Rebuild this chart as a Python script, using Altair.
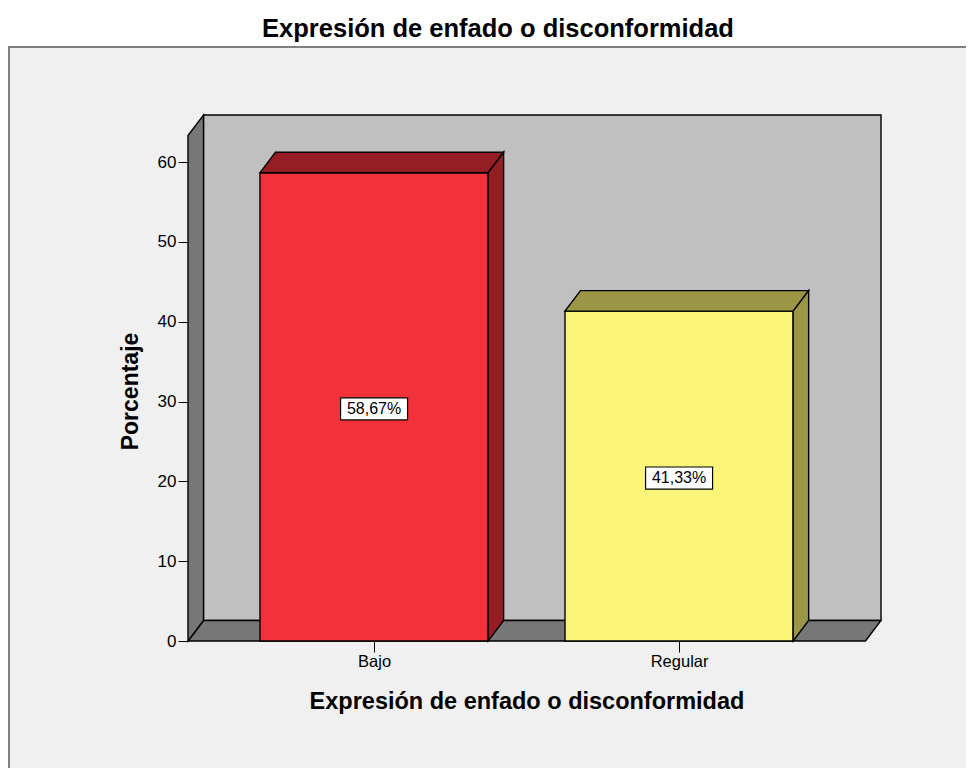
import json
import altair as alt
import pandas as pd

# ---------------- data ----------------
categories = ["Bajo", "Regular"]
percentages = [58.67, 41.33]
value_labels = ["58,67%", "41,33%"]
y_ticks = [0, 10, 20, 30, 40, 50, 60]

front_colors = ["#F1323A", "#FAF578"]
shade_colors = ["#941E23", "#9B9646"]

chart_title = "Expresión de enfado o disconformidad"
x_title = "Expresión de enfado o disconformidad"
y_title = "Porcentaje"

# ---------------- geometry (x in category units, y in percent) ----------------
X_MIN, X_MAX = -0.61, 1.662
Y_MAX = 65.9
HALF_W = 0.374
DX = 0.0508
DY = 2.57
FRONT_TOP = Y_MAX - DY

FONT = "Liberation Sans"
W, H = 693, 526

positions = list(range(len(categories)))

xs = alt.Scale(domain=[X_MIN, X_MAX], nice=False, zero=False)
ys = alt.Scale(domain=[0, Y_MAX], nice=False, zero=False)
color_front = alt.Scale(domain=categories, range=front_colors)
color_shade = alt.Scale(domain=categories, range=shade_colors)

x_axis = alt.Axis(
    values=positions,
    labelExpr=f"{json.dumps(categories)}[round(datum.value)]",
    domain=False, grid=False, tickSize=11, tickColor="black", tickWidth=1,
    labelFont=FONT, labelFontSize=16.5, labelColor="black", labelPadding=1,
    labelFlush=False,
    title=x_title, titleFont=FONT, titleFontSize=23.5, titleFontWeight="bold",
    titleColor="black", titleX=338.5, titleY=67.5, titleBaseline="alphabetic",
    titleAlign="center", zindex=2,
)
y_axis = alt.Axis(
    values=y_ticks, domain=False, grid=False, tickSize=10, tickColor="black",
    tickWidth=1, labelFont=FONT, labelFontSize=17, labelColor="black",
    labelPadding=2,
    title=y_title, titleFont=FONT, titleFontSize=23, titleFontWeight="bold",
    titleColor="black", titleAngle=270, titleX=-51, titleY=276,
    titleBaseline="alphabetic", titleAlign="center", zindex=2,
)


def X(field="x"):
    return alt.X(f"{field}:Q", scale=xs, axis=x_axis)


def Y(field="y"):
    return alt.Y(f"{field}:Q", scale=ys, axis=y_axis)


# ---------------- tables ----------------
one = pd.DataFrame({"k": [0]})

back_df = pd.DataFrame({"x": [X_MIN + DX], "x2": [X_MAX], "y": [DY], "y2": [Y_MAX]})
floor_df = pd.DataFrame({"y": [0, DY], "x": [X_MIN, X_MIN + DX], "x2": [X_MAX - DX, X_MAX]})
wall_df = pd.DataFrame({"x": [X_MIN, X_MIN + DX], "y": [0, DY], "y2": [FRONT_TOP, Y_MAX]})

bars = pd.DataFrame({
    "cat": categories,
    "pos": positions,
    "value": percentages,
    "label": value_labels,
})
bars["x"] = bars["pos"] - HALF_W
bars["x2"] = bars["pos"] + HALF_W
bars["y"] = 0.0
bars["y2"] = bars["value"]

top_rows, side_rows = [], []
for c, p, v in zip(categories, positions, percentages):
    top_rows.append({"cat": c, "y": v, "x": p - HALF_W, "x2": p + HALF_W})
    top_rows.append({"cat": c, "y": v + DY, "x": p - HALF_W + DX, "x2": p + HALF_W + DX})
    side_rows.append({"cat": c, "x": p + HALF_W, "y": 0.0, "y2": v})
    side_rows.append({"cat": c, "x": p + HALF_W + DX, "y": DY, "y2": v + DY})
top_df = pd.DataFrame(top_rows)
side_df = pd.DataFrame(side_rows)

lab_df = pd.DataFrame({"x": positions, "y": [v / 2 for v in percentages], "label": value_labels})

OUT = dict(stroke="black", strokeWidth=1.4)

# ---------------- layers ----------------
frame = alt.Chart(one).mark_rect(
    fill="#F0F0F0", stroke="#808080", strokeWidth=2
).encode(x=alt.value(-179), x2=alt.value(820), y=alt.value(-68), y2=alt.value(720))

title = alt.Chart(one).mark_text(
    text=chart_title, font=FONT, fontSize=25.5, fontWeight="bold", color="black",
    align="center", baseline="alphabetic",
).encode(x=alt.value(310), y=alt.value(-78.5))

back = alt.Chart(back_df).mark_rect(fill="#C0C0C0", **OUT).encode(
    x=X(), x2="x2:Q", y=Y(), y2="y2:Q")

floor = alt.Chart(floor_df).mark_area(orient="horizontal", fill="#777777", **OUT).encode(
    y=Y(), x=X(), x2="x2:Q")

wall = alt.Chart(wall_df).mark_area(orient="vertical", fill="#777777", **OUT).encode(
    x=X(), y=Y(), y2="y2:Q")

fronts = alt.Chart(bars).mark_rect(**OUT).encode(
    x=X(), x2="x2:Q", y=Y(), y2="y2:Q",
    fill=alt.Fill("cat:N", scale=color_front, legend=None))

tops = alt.Chart(top_df).mark_area(orient="horizontal", **OUT).encode(
    y=Y(), x=X(), x2="x2:Q",
    fill=alt.Fill("cat:N", scale=color_shade, legend=None),
    detail="cat:N")

sides = alt.Chart(side_df).mark_area(orient="vertical", **OUT).encode(
    x=X(), y=Y(), y2="y2:Q",
    fill=alt.Fill("cat:N", scale=color_shade, legend=None),
    detail="cat:N")

boxes = alt.Chart(lab_df).mark_point(
    shape="M -1 -0.33 L 1 -0.33 L 1 0.33 L -1 0.33 Z",
    size=67 * 67, filled=True, fill="white", stroke="black", strokeWidth=1.2,
    opacity=1, yOffset=2,
).encode(x=X(), y=Y())

texts = alt.Chart(lab_df).mark_text(
    font=FONT, fontSize=16, color="black", align="center", baseline="middle", dy=2,
).encode(x=X(), y=Y(), text="label:N")

chart = alt.layer(
    frame, title, back, floor, wall, fronts, tops, sides, boxes, texts
).resolve_scale(fill="independent").properties(
    width=W, height=H,
    autosize=alt.AutoSizeParams(type="none"),
    padding={"left": 180, "top": 107, "right": 85, "bottom": 127},
    background="white",
).configure_view(stroke=None)

chart.save("out.html", embed_options={"renderer": "svg", "actions": False})
